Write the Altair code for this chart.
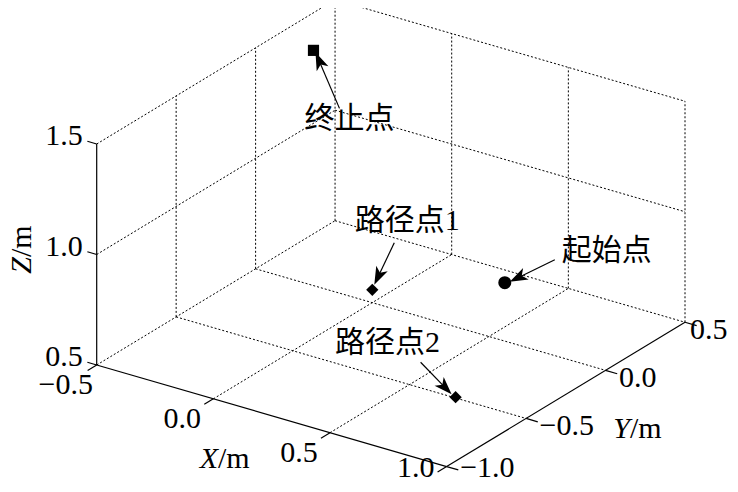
import math
import altair as alt
import pandas as pd

# ---------------- data ----------------
x_ticks = [-0.5, 0.0, 0.5, 1.0]
y_ticks = [-1.0, -0.5, 0.0, 0.5]
z_ticks = [0.5, 1.0, 1.5]

point_names = ["起始点", "路径点1", "路径点2", "终止点"]
point_x = [0.50, 0.15, 0.80, -0.32]
point_y = [0.10, -0.22, -0.65, 0.10]
point_z = [0.70, 0.70, 0.60, 1.50]
point_shapes = ["circle", "diamond", "diamond", "square"]

# ---------------- layout / styles ----------------
W, H = 722, 476
ORIGIN = (96.7, 365.0)      # screen position of (xmin, ymin, zmin)
EX = (233.3, 67.7)          # screen vector per unit X
EY = (158.9, -96.2)         # per unit Y
EZ = (0.0, -221.0)          # per unit Z
SERIF = "Liberation Serif"
CJK = "Liberation Serif, Noto Sans CJK SC"
FS = 30
marker_sizes = {"circle": 170, "diamond": 150, "square": 125}
# annotation offsets (px) relative to marker: text centre, arrow tail, arrow tip
ann_layout = {
    "起始点": dict(text=(102, -32), tail=(50, -23), tip=(5, -1)),
    "路径点1": dict(text=(35, -69), tail=(22, -47), tip=(2, -5)),
    "路径点2": dict(text=(-68, -54), tail=(-35, -35), tip=(-4, -3)),
    "终止点": dict(text=(36, 69), tail=(26, 58), tip=(2, 2)),
}
HEAD_SIZE = 420
ARROW_PATH = "M0,-1L0.62,0.75L0,0.3L-0.62,0.75Z"
BOTTOM_LIMIT = 468   # keep the lowest tick labels inside the page
RIGHT_LIMIT = 690    # keep the right-most tick label inside the page


def proj(X, Y, Z):
    u, v, w = X - x_ticks[0], Y - y_ticks[0], Z - z_ticks[0]
    return (ORIGIN[0] + EX[0] * u + EY[0] * v + EZ[0] * w,
            ORIGIN[1] + EX[1] * u + EY[1] * v + EZ[1] * w)


xmin, xmax = x_ticks[0], x_ticks[-1]
ymin, ymax = y_ticks[0], y_ticks[-1]
zmin, zmax = z_ticks[0], z_ticks[-1]


def seg(a, b):
    (x1, y1), (x2, y2) = proj(*a), proj(*b)
    return dict(x=x1, y=y1, x2=x2, y2=y2)


grid = []
for z in z_ticks:
    grid.append(seg((xmin, ymin, z), (xmin, ymax, z)))
    grid.append(seg((xmin, ymax, z), (xmax, ymax, z)))
for y in y_ticks[1:]:
    grid.append(seg((xmin, y, zmin), (xmin, y, zmax)))
for x in x_ticks[1:]:
    grid.append(seg((x, ymax, zmin), (x, ymax, zmax)))
for x in x_ticks[1:-1]:
    grid.append(seg((x, ymin, zmin), (x, ymax, zmin)))
for y in y_ticks[1:-1]:
    grid.append(seg((xmin, y, zmin), (xmax, y, zmin)))

axes = [
    seg((xmin, ymin, zmin), (xmin, ymin, zmax)),
    seg((xmin, ymin, zmin), (xmax, ymin, zmin)),
    seg((xmax, ymin, zmin), (xmax, ymax, zmin)),
]
ticks = []
for z in z_ticks:
    ticks.append(seg((xmin, ymin, z), (xmin - 0.04, ymin, z)))
for x in x_ticks:
    ticks.append(seg((x, ymin, zmin), (x, ymin - 0.057, zmin)))
for y in y_ticks:
    ticks.append(seg((xmax, y, zmin), (xmax + 0.05, y, zmin)))


def fmt(v):
    return f"{v:.1f}".replace("-", "\u2212")


zlab = [dict(x=proj(xmin, ymin, z)[0] - 14, y=proj(xmin, ymin, z)[1] - 8, t=fmt(z)) for z in z_ticks]
xlab = [dict(x=proj(x, ymin, zmin)[0] - 31,
             y=min(proj(x, ymin, zmin)[1] + 20, BOTTOM_LIMIT), t=fmt(x)) for x in x_ticks]
ylab = [dict(x=min(proj(xmax, y, zmin)[0] + 13.5, RIGHT_LIMIT),
             y=min(proj(xmax, y, zmin)[1] + 8, BOTTOM_LIMIT), t=fmt(y)) for y in y_ticks]

pts, texts, shafts, heads = [], [], [], []
for n, X, Y, Z, s in zip(point_names, point_x, point_y, point_z, point_shapes):
    px, py = proj(X, Y, Z)
    pts.append(dict(x=px, y=py, shape=s, size=marker_sizes[s]))
    L = ann_layout[n]
    texts.append(dict(x=px + L["text"][0], y=py + L["text"][1], t=n))
    tx, ty = px + L["tail"][0], py + L["tail"][1]
    hx, hy = px + L["tip"][0], py + L["tip"][1]
    dx, dy = hx - tx, hy - ty
    d = math.hypot(dx, dy)
    ux, uy = dx / d, dy / d
    half = math.sqrt(HEAD_SIZE) / 2
    cx, cy = hx - ux * half, hy - uy * half
    ang = math.degrees(math.atan2(dx, -dy)) % 360
    shafts.append(dict(x=tx, y=ty, x2=cx, y2=cy))
    heads.append(dict(x=cx, y=cy, angle=ang))

xs = alt.Scale(domain=[8, 8 + W], nice=False, zero=False)
ys = alt.Scale(domain=[8 + H, 8], nice=False, zero=False)
X_ = alt.X("x:Q", scale=xs, axis=None)
Y_ = alt.Y("y:Q", scale=ys, axis=None)

grid_l = alt.Chart(pd.DataFrame(grid)).mark_rule(
    color="#000", strokeWidth=1.0, strokeDash=[2, 2]
).encode(x=X_, y=Y_, x2="x2:Q", y2="y2:Q")
axes_l = alt.Chart(pd.DataFrame(axes + ticks)).mark_rule(
    color="#000", strokeWidth=1.2
).encode(x=X_, y=Y_, x2="x2:Q", y2="y2:Q")

zlab_l = alt.Chart(pd.DataFrame(zlab)).mark_text(
    font=SERIF, fontSize=FS, align="right", baseline="middle", color="#000"
).encode(x=X_, y=Y_, text="t:N")
xlab_l = alt.Chart(pd.DataFrame(xlab)).mark_text(
    font=SERIF, fontSize=FS, align="center", baseline="middle", color="#000"
).encode(x=X_, y=Y_, text="t:N")
ylab_l = alt.Chart(pd.DataFrame(ylab)).mark_text(
    font=SERIF, fontSize=FS, align="left", baseline="middle", color="#000"
).encode(x=X_, y=Y_, text="t:N")

# axis titles: italic variable + upright unit
title_it = pd.DataFrame([
    dict(x=218, y=459, t="X"),
    dict(x=630, y=429, t="Y"),
])
title_un = pd.DataFrame([
    dict(x=218, y=459, t="/m"),
    dict(x=630, y=429, t="/m"),
])
t_it = alt.Chart(title_it).mark_text(
    font=SERIF, fontSize=FS, fontStyle="italic", align="right", baseline="middle", color="#000"
).encode(x=X_, y=Y_, text="t:N")
t_un = alt.Chart(title_un).mark_text(
    font=SERIF, fontSize=FS, align="left", baseline="middle", color="#000"
).encode(x=X_, y=Y_, text="t:N")
zt = pd.DataFrame([dict(x=22, y=257)])
zt_it = alt.Chart(zt).mark_text(
    font=SERIF, fontSize=FS, fontStyle="italic", align="right", baseline="middle",
    angle=270, text="Z", color="#000"
).encode(x=X_, y=Y_)
zt_un = alt.Chart(zt).mark_text(
    font=SERIF, fontSize=FS, align="left", baseline="middle",
    angle=270, text="/m", color="#000"
).encode(x=X_, y=Y_)

pts_l = alt.Chart(pd.DataFrame(pts)).mark_point(
    filled=True, color="#000", opacity=1
).encode(x=X_, y=Y_, shape=alt.Shape("shape:N", scale=None),
         size=alt.Size("size:Q", scale=None))

shaft_l = alt.Chart(pd.DataFrame(shafts)).mark_rule(
    color="#000", strokeWidth=1.2
).encode(x=X_, y=Y_, x2="x2:Q", y2="y2:Q")
head_l = alt.Chart(pd.DataFrame(heads)).mark_point(
    shape=ARROW_PATH, filled=True, color="#000", opacity=1, size=HEAD_SIZE
).encode(x=X_, y=Y_, angle=alt.Angle("angle:Q", scale=None))

text_l = alt.Chart(pd.DataFrame(texts)).mark_text(
    font=CJK, fontSize=FS, align="center", baseline="middle", color="#000"
).encode(x=X_, y=Y_, text="t:N")

chart = alt.layer(
    grid_l, axes_l, zlab_l, xlab_l, ylab_l, t_it, t_un, zt_it, zt_un,
    pts_l, shaft_l, head_l, text_l
).properties(
    width=W, height=H, padding=0, autosize="none",
).configure_view(stroke=None)

chart.save("out.html", embed_options={"renderer": "svg", "actions": False})
